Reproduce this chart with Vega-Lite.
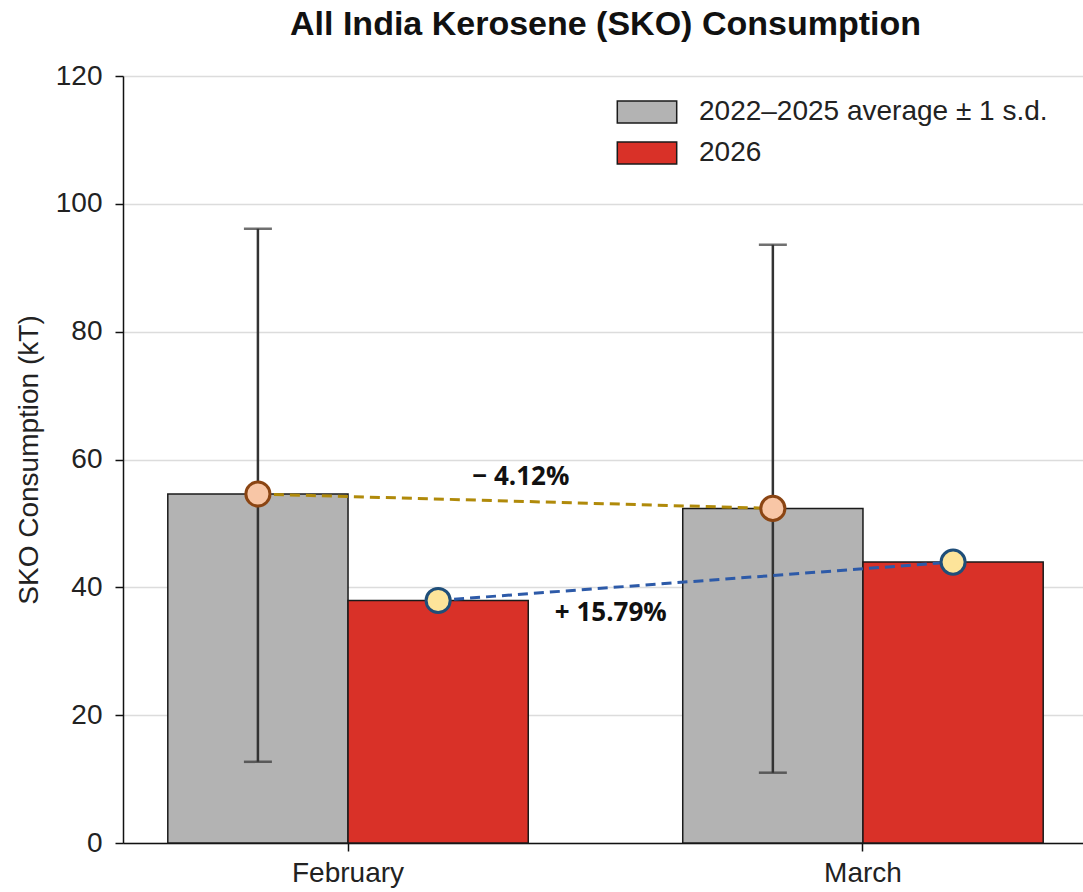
{
  "$schema": "https://vega.github.io/schema/vega-lite/v6.json",
  "width": 965,
  "height": 767,
  "autosize": {"type": "none"},
  "padding": {"left": 123, "top": 76, "right": 0, "bottom": 49},
  "background": "white",
  "config": {
    "view": {"stroke": null},
    "font": "Liberation Sans",
    "axis": {"labelFont": "Liberation Sans", "titleFont": "Liberation Sans", "labelColor": "#222", "titleColor": "#222", "domainColor": "#111", "tickColor": "#111"}
  },
  "title": {"text": "All India Kerosene (SKO) Consumption", "fontSize": 34, "fontWeight": "bold", "font": "Liberation Sans", "color": "#111", "anchor": "middle", "offset": 20},
  "datasets": {
    "bars": [
      {"month": "February", "series": "2022–2025 average ± 1 s.d.", "value": 54.6, "lo": 12.7, "hi": 96.1},
      {"month": "February", "series": "2026", "value": 37.95},
      {"month": "March", "series": "2022–2025 average ± 1 s.d.", "value": 52.35, "lo": 11.0, "hi": 93.6},
      {"month": "March", "series": "2026", "value": 43.95}
    ],
    "labels": [
      {"month": "February", "kind": "avg", "value": 57.3, "label": "− 4.12%"},
      {"month": "February", "kind": "cur", "value": 36.0, "label": "+ 15.79%"}
    ]
  },
  "encoding": {
    "x": {"field": "month", "type": "nominal", "sort": ["February", "March"],
      "scale": {"paddingInner": 0.3, "paddingOuter": 0.087},
      "axis": {"title": null, "labelAngle": 0, "labelFontSize": 28, "labelPadding": 8, "tickSize": 8, "tickWidth": 1.5, "domainWidth": 1.5, "grid": false}},
    "xOffset": {"field": "series", "type": "nominal", "sort": ["2022–2025 average ± 1 s.d.", "2026"], "scale": {"paddingInner": 0, "paddingOuter": 0}},
    "y": {"field": "value", "type": "quantitative", "scale": {"domain": [0, 120]},
      "axis": {"title": "SKO Consumption (kT)", "titleFontSize": 28, "titleFontWeight": "normal", "titlePadding": 12, "labelFontSize": 28, "labelPadding": 13, "values": [0, 20, 40, 60, 80, 100, 120], "tickSize": 8, "tickWidth": 1.5, "domainWidth": 1.5, "grid": true, "gridColor": "#dcdcdc", "gridWidth": 1.5}}
  },
  "layer": [
    {
      "data": {"name": "bars"},
      "mark": {"type": "bar", "stroke": "#1a1a1a", "strokeWidth": 1.5},
      "encoding": {
        "fill": {"field": "series", "type": "nominal",
          "scale": {"domain": ["2022–2025 average ± 1 s.d.", "2026"], "range": ["#b3b3b3", "#d93128"]},
          "legend": {"title": null, "orient": "none", "legendX": 510, "legendY": 22, "symbolType": "M-2.7,-1H2.7V1H-2.7Z", "symbolSize": 484, "symbolStrokeColor": "#1a1a1a", "symbolStrokeWidth": 1.5, "symbolOpacity": 1, "labelFontSize": 28, "labelColor": "#222", "labelOffset": 38, "labelLimit": 600, "rowPadding": 13, "labelFont": "Liberation Sans"}}
      }
    },
    {
      "data": {"name": "bars"},
      "transform": [{"filter": "datum.lo != null"}],
      "mark": {"type": "rule", "color": "#333", "strokeWidth": 2.5},
      "encoding": {"y": {"field": "lo", "type": "quantitative"}, "y2": {"field": "hi"}}
    },
    {
      "data": {"name": "bars"},
      "transform": [{"filter": "datum.lo != null"}],
      "mark": {"type": "tick", "color": "#333", "size": 28, "thickness": 2.5},
      "encoding": {"y": {"field": "lo", "type": "quantitative"}}
    },
    {
      "data": {"name": "bars"},
      "transform": [{"filter": "datum.lo != null"}],
      "mark": {"type": "tick", "color": "#333", "size": 28, "thickness": 2.5},
      "encoding": {"y": {"field": "hi", "type": "quantitative"}}
    },
    {
      "data": {"name": "bars"},
      "transform": [{"filter": "datum.series != '2026'"}],
      "mark": {"type": "line", "color": "#b08a0a", "strokeWidth": 3, "strokeDash": [10, 6]},
      "encoding": {}
    },
    {
      "data": {"name": "bars"},
      "transform": [{"filter": "datum.series == '2026'"}],
      "mark": {"type": "line", "color": "#2d5aa8", "strokeWidth": 3, "strokeDash": [10, 6]},
      "encoding": {}
    },
    {
      "data": {"name": "bars"},
      "transform": [{"filter": "datum.series != '2026'"}],
      "mark": {"type": "point", "shape": "circle", "filled": true, "fill": "#f8c6a6", "stroke": "#8b4513", "strokeWidth": 3, "size": 580, "opacity": 1},
      "encoding": {}
    },
    {
      "data": {"name": "bars"},
      "transform": [{"filter": "datum.series == '2026'"}],
      "mark": {"type": "point", "shape": "circle", "filled": true, "fill": "#fde49a", "stroke": "#1f4e79", "strokeWidth": 3, "size": 580, "opacity": 1},
      "encoding": {}
    },
    {
      "data": {"name": "labels"},
      "transform": [{"filter": "datum.kind == 'avg'"}],
      "mark": {"type": "text", "font": "Open Sans", "fontWeight": "bold", "fontSize": 26, "color": "#111", "dx": 353, "align": "center", "baseline": "middle"},
      "encoding": {"xOffset": {"value": 0}, "text": {"field": "label"}}
    },
    {
      "data": {"name": "labels"},
      "transform": [{"filter": "datum.kind == 'cur'"}],
      "mark": {"type": "text", "font": "Open Sans", "fontWeight": "bold", "fontSize": 26, "color": "#111", "dx": 443, "align": "center", "baseline": "middle"},
      "encoding": {"xOffset": {"value": 0}, "text": {"field": "label"}}
    }
  ]
}
